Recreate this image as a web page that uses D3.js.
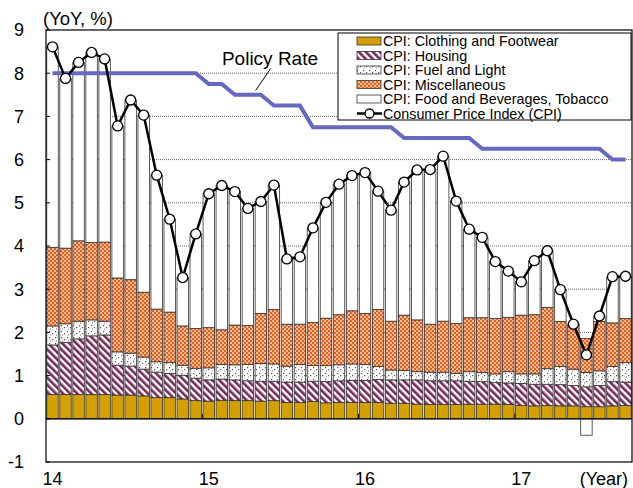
<!DOCTYPE html>
<html>
<head>
<meta charset="utf-8">
<script src="https://cdn.jsdelivr.net/npm/d3@7"></script>
<style>
body { margin: 0; background: #fff; }
text { font-family: Arial, "Liberation Sans", sans-serif; }
</style>
</head>
<body>
<div id="chart"></div>
<script>
// months Jan 2014 .. Sep 2017
var months = ["14/01","14/02","14/03","14/04","14/05","14/06","14/07","14/08","14/09","14/10","14/11","14/12",
  "15/01","15/02","15/03","15/04","15/05","15/06","15/07","15/08","15/09","15/10","15/11","15/12",
  "16/01","16/02","16/03","16/04","16/05","16/06","16/07","16/08","16/09","16/10","16/11","16/12",
  "17/01","17/02","17/03","17/04","17/05","17/06","17/07","17/08","17/09"]

var yearLabels = ["14", "15", "16", "17"]
var yearStart = [0, 12, 24, 36]
var yTicks = [-1, 0, 1, 2, 3, 4, 5, 6, 7, 8, 9]

// contributions (pt)
var clothing = [0.56,0.56,0.56,0.56,0.56,0.55,0.55,0.53,0.49,0.49,0.46,0.42,
  0.41,0.43,0.42,0.42,0.41,0.42,0.38,0.38,0.40,0.37,0.38,0.38,
  0.38,0.38,0.36,0.36,0.34,0.33,0.33,0.33,0.34,0.34,0.34,0.33,
  0.31,0.30,0.31,0.30,0.30,0.28,0.28,0.30,0.31]
var housing = [1.15,1.21,1.29,1.36,1.38,0.69,0.67,0.62,0.59,0.56,0.55,0.52,
  0.49,0.49,0.48,0.46,0.46,0.45,0.47,0.47,0.47,0.49,0.50,0.51,
  0.51,0.53,0.54,0.54,0.56,0.55,0.55,0.55,0.53,0.52,0.50,0.50,
  0.51,0.50,0.49,0.49,0.47,0.46,0.49,0.56,0.54]
var fuel = [0.44,0.43,0.41,0.37,0.32,0.31,0.30,0.28,0.24,0.25,0.23,0.23,
  0.28,0.34,0.35,0.38,0.41,0.40,0.37,0.41,0.36,0.37,0.37,0.38,
  0.37,0.30,0.23,0.22,0.19,0.20,0.20,0.17,0.22,0.21,0.20,0.26,
  0.22,0.24,0.36,0.42,0.38,0.33,0.34,0.35,0.45]
var misc = [1.82,1.75,1.86,1.79,1.83,1.71,1.70,1.50,1.22,1.17,0.91,0.92,
  0.93,0.80,0.92,0.90,1.16,1.26,0.97,0.93,1.00,1.10,1.16,1.23,
  1.18,1.32,1.13,1.28,1.20,1.11,1.18,1.16,1.25,1.27,1.28,1.26,
  1.36,1.37,1.42,1.04,1.02,0.79,1.14,1.01,1.02]
var food = [4.64,3.93,4.13,4.40,4.24,3.52,4.16,4.10,3.10,2.15,1.12,2.19,
  3.10,3.34,3.09,2.71,2.59,2.88,1.51,1.56,2.19,2.68,3.02,3.13,
  3.26,2.74,2.57,3.08,3.47,3.58,3.82,2.83,2.05,1.86,1.32,1.07,
  0.77,1.25,1.31,0.74,0.02,-0.38,0.13,1.07,0.98]
var cpi = [8.61,7.88,8.25,8.48,8.33,6.78,7.38,7.03,5.64,4.62,3.27,4.28,
  5.21,5.40,5.26,4.87,5.03,5.41,3.70,3.75,4.42,5.01,5.43,5.63,
  5.70,5.27,4.83,5.48,5.76,5.77,6.08,5.04,4.39,4.20,3.64,3.42,
  3.17,3.66,3.89,2.99,2.19,1.48,2.38,3.29,3.30]
var policyRate = [8,8,8,8,8,8,8,8,8,8,8,8,
  7.75,7.75,7.5,7.5,7.5,7.25,7.25,7.25,6.75,6.75,6.75,6.75,
  6.75,6.75,6.75,6.5,6.5,6.5,6.5,6.5,6.5,6.25,6.25,6.25,
  6.25,6.25,6.25,6.25,6.25,6.25,6.25,6,6]

var W = 633, H = 488
var plotL = 46, plotR = 632, plotT = 30, plotB = 462

var svg = d3.select("#chart").append("svg")
  .attr("width", W)
  .attr("height", H)

var x = d3.scaleBand()
  .domain(d3.range(months.length))
  .range([plotL, plotR])
  .paddingInner(0.12)
  .paddingOuter(0.06)
var y = d3.scaleLinear().domain([-1, 9]).range([plotB, plotT])
var cx = function (i) { return x(i) + x.bandwidth() / 2 }
var xm = d3.scaleLinear().domain([0, months.length - 1]).range([cx(0), cx(months.length - 1)])

// patterns
var defs = svg.append("defs")
var p1 = defs.append("pattern").attr("id", "stripes").attr("patternUnits", "userSpaceOnUse")
  .attr("width", 5).attr("height", 5).attr("patternTransform", "rotate(-45)")
p1.append("rect").attr("width", 5).attr("height", 5).attr("fill", "#fff")
p1.append("rect").attr("width", 2.6).attr("height", 5).attr("fill", "#772858")

var p2 = defs.append("pattern").attr("id", "dots").attr("patternUnits", "userSpaceOnUse")
  .attr("width", 6).attr("height", 6)
p2.append("rect").attr("width", 6).attr("height", 6).attr("fill", "#fff")
p2.append("rect").attr("x", 1).attr("y", 1).attr("width", 1.2).attr("height", 1.2).attr("fill", "#555")
p2.append("rect").attr("x", 4).attr("y", 3).attr("width", 1.2).attr("height", 1.2).attr("fill", "#555")
p2.append("rect").attr("x", 2).attr("y", 4.5).attr("width", 1).attr("height", 1).attr("fill", "#777")

var p3 = defs.append("pattern").attr("id", "checker").attr("patternUnits", "userSpaceOnUse")
  .attr("width", 4).attr("height", 4)
p3.append("rect").attr("width", 4).attr("height", 4).attr("fill", "#e0621c")
p3.append("rect").attr("x", 0.3).attr("y", 0.3).attr("width", 1.5).attr("height", 1.5).attr("fill", "#fff")
p3.append("rect").attr("x", 2.3).attr("y", 2.3).attr("width", 1.5).attr("height", 1.5).attr("fill", "#fff")

var keys = ["clothing", "housing", "fuel", "misc", "food"]
var fills = { clothing: "#d4a000", housing: "url(#stripes)", fuel: "url(#dots)", misc: "url(#checker)", food: "#fff" }
var names = { clothing: "CPI: Clothing and Footwear", housing: "CPI: Housing", fuel: "CPI: Fuel and Light",
  misc: "CPI: Miscellaneous", food: "CPI: Food and Beverages, Tobacco" }

// grid
svg.append("g").selectAll("line")
  .data(yTicks.filter(function (d) { return d > 0 && d < 9 }))
  .enter().append("line")
  .attr("x1", plotL).attr("x2", plotR)
  .attr("y1", function (d) { return y(d) }).attr("y2", function (d) { return y(d) })
  .attr("stroke", "#666")
  .attr("stroke-dasharray", "1,1")

var rows = months.map(function (m, i) {
  return { clothing: clothing[i], housing: housing[i], fuel: fuel[i], misc: misc[i], food: food[i] }
})
var series = d3.stack().keys(keys).offset(d3.stackOffsetDiverging)(rows)

svg.append("g").selectAll("g")
  .data(series)
  .enter().append("g")
  .attr("fill", function (d) { return fills[d.key] })
  .selectAll("rect")
  .data(function (d) { return d })
  .enter().append("rect")
  .attr("x", function (d, i) { return x(i) })
  .attr("width", x.bandwidth())
  .attr("y", function (d) { return y(Math.max(d[0], d[1])) })
  .attr("height", function (d) { return Math.abs(y(d[0]) - y(d[1])) })
  .attr("stroke", "#333")
  .attr("stroke-width", 0.8)

// zero line and frame
svg.append("line")
  .attr("x1", plotL).attr("x2", plotR)
  .attr("y1", y(0)).attr("y2", y(0))
  .attr("stroke", "#000").attr("stroke-width", 1.2)
svg.append("rect")
  .attr("x", plotL).attr("y", plotT)
  .attr("width", plotR - plotL).attr("height", plotB - plotT)
  .attr("fill", "none").attr("stroke", "#000").attr("stroke-width", 1.2)

// y ticks
svg.append("g").selectAll("line")
  .data(yTicks)
  .enter().append("line")
  .attr("x1", plotL).attr("x2", plotL + 4)
  .attr("y1", function (d) { return y(d) }).attr("y2", function (d) { return y(d) })
  .attr("stroke", "#000")
svg.append("g").selectAll("text")
  .data(yTicks)
  .enter().append("text")
  .attr("x", 24)
  .attr("y", function (d) { return y(d) })
  .attr("dy", "0.35em")
  .attr("text-anchor", "end")
  .style("font-size", "18px")
  .text(function (d) { return d })

// year ticks on zero line
svg.append("g").selectAll("line")
  .data(yearStart.slice(1))
  .enter().append("line")
  .attr("x1", function (d) { return x(d) - (x.step() - x.bandwidth()) / 2 })
  .attr("x2", function (d) { return x(d) - (x.step() - x.bandwidth()) / 2 })
  .attr("y1", y(0)).attr("y2", y(0) - 5)
  .attr("stroke", "#000")

svg.append("g").selectAll("text")
  .data(yearLabels)
  .enter().append("text")
  .attr("x", function (d, i) { return cx(yearStart[i]) })
  .attr("y", 485)
  .attr("text-anchor", "middle")
  .style("font-size", "18px")
  .text(function (d) { return d })

svg.append("text").attr("x", 628).attr("y", 485).attr("text-anchor", "end")
  .style("font-size", "18px").text("(Year)")
svg.append("text").attr("x", 43).attr("y", 25)
  .style("font-size", "18.5px").text("(YoY, %)")

// policy rate
var line = d3.line()
  .x(function (d, i) { return cx(i) })
  .y(function (d) { return y(d) })
svg.append("path")
  .datum(policyRate)
  .attr("d", line)
  .attr("fill", "none")
  .attr("stroke", "#6669c0")
  .attr("stroke-width", 4)

svg.append("text")
  .attr("x", xm(16.7)).attr("y", y(8.19))
  .attr("text-anchor", "middle")
  .style("font-size", "19px")
  .text("Policy Rate")
svg.append("line")
  .attr("x1", xm(16.75)).attr("y1", y(8.11))
  .attr("x2", xm(15.6)).attr("y2", y(7.6))
  .attr("stroke", "#000").attr("stroke-width", 1)

// CPI
svg.append("path")
  .datum(cpi)
  .attr("d", line)
  .attr("fill", "none")
  .attr("stroke", "#000")
  .attr("stroke-width", 2.5)
svg.append("g").selectAll("circle")
  .data(cpi)
  .enter().append("circle")
  .attr("cx", function (d, i) { return cx(i) })
  .attr("cy", function (d) { return y(d) })
  .attr("r", 5)
  .attr("fill", "#fff")
  .attr("stroke", "#000")
  .attr("stroke-width", 1.3)

// legend
var lg = svg.append("g").attr("transform", "translate(338,33)")
lg.append("rect").attr("width", 293).attr("height", 87)
  .attr("fill", "#fff").attr("stroke", "#000").attr("stroke-width", 1)
var rowY = function (i) { return 8 + i * 14.5 }
lg.selectAll("rect.sw")
  .data(keys)
  .enter().append("rect")
  .attr("class", "sw")
  .attr("x", 19).attr("y", function (d, i) { return rowY(i) - 4 })
  .attr("width", 24).attr("height", 8)
  .attr("fill", function (d) { return fills[d] })
  .attr("stroke", "#333").attr("stroke-width", 0.8)
lg.selectAll("text")
  .data(keys.map(function (k) { return names[k] }).concat(["Consumer Price Index (CPI)"]))
  .enter().append("text")
  .attr("x", 45).attr("y", function (d, i) { return rowY(i) })
  .attr("dy", "0.36em")
  .style("font-size", "14.3px")
  .text(function (d) { return d })
lg.append("line").attr("x1", 19).attr("x2", 44)
  .attr("y1", rowY(5)).attr("y2", rowY(5))
  .attr("stroke", "#000").attr("stroke-width", 2.5)
lg.append("circle").attr("cx", 31.5).attr("cy", rowY(5)).attr("r", 4.5)
  .attr("fill", "#fff").attr("stroke", "#000").attr("stroke-width", 1.3)
</script>
</body>
</html>
